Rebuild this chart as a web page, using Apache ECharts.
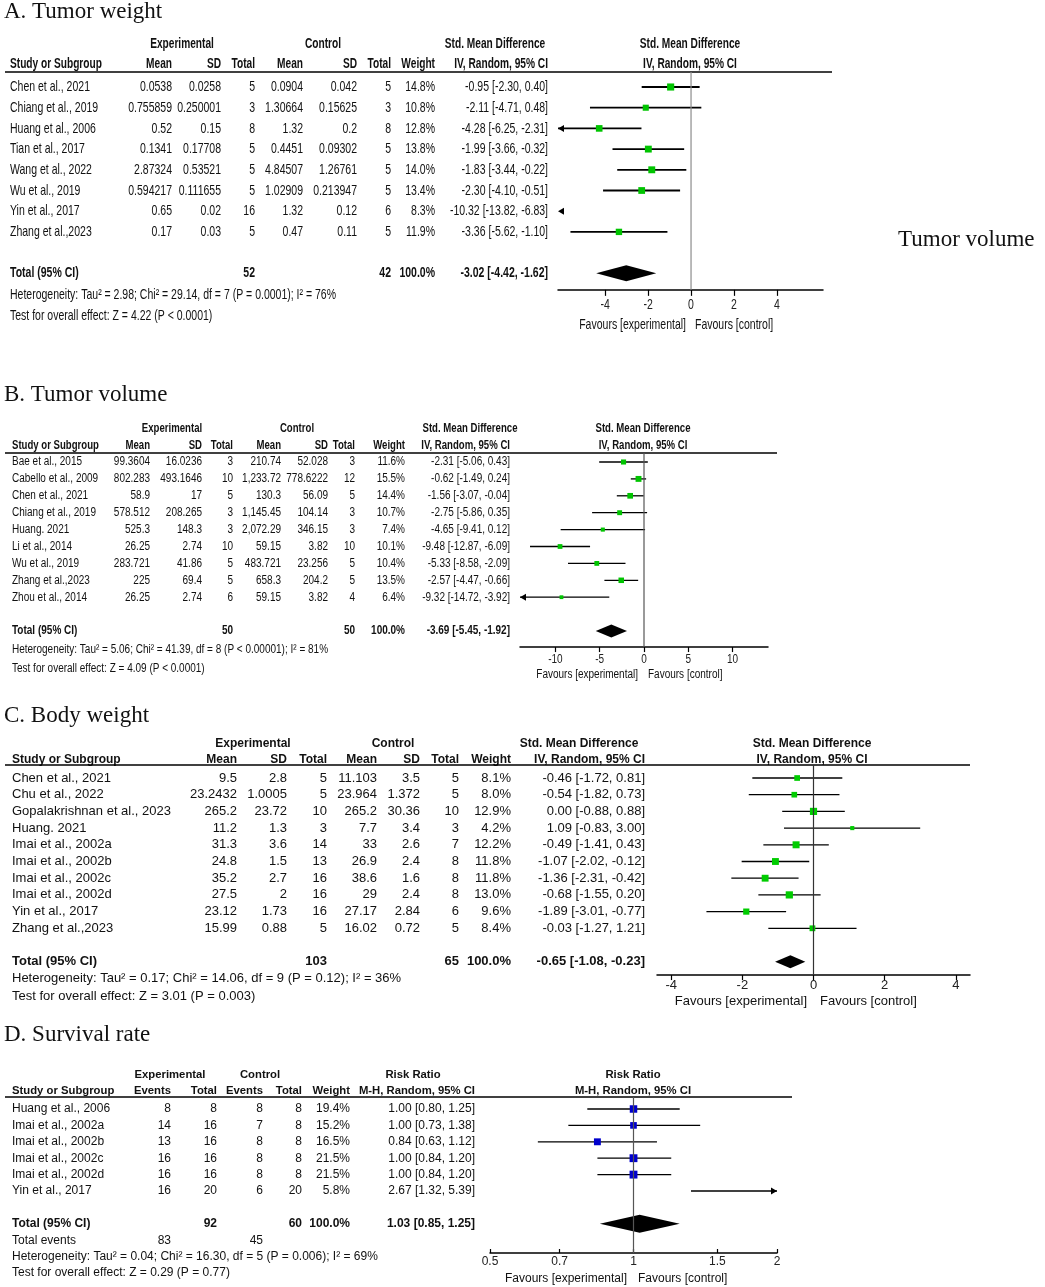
<!DOCTYPE html>
<html>
<head>
<meta charset="utf-8">
<title>Forest plots</title>
<script src="https://cdn.jsdelivr.net/npm/echarts@6.0.0/dist/echarts.min.js"></script>
<style>html,body{margin:0;padding:0;background:#fff}#chart{width:1045px;height:1287px}</style>
</head>
<body>
<div id="chart"></div>
<script>
// A. Tumor weight
const studiesA = ['Chen et al., 2021','Chiang et al., 2019','Huang et al., 2006','Tian et al., 2017','Wang et al., 2022','Wu et al., 2019','Yin et al., 2017','Zhang et al.,2023'];
const expMeanA = ['0.0538','0.755859','0.52','0.1341','2.87324','0.594217','0.65','0.17'];
const expSdA = ['0.0258','0.250001','0.15','0.17708','0.53521','0.111655','0.02','0.03'];
const expNA = [5,3,8,5,5,5,16,5];
const ctlMeanA = ['0.0904','1.30664','1.32','0.4451','4.84507','1.02909','1.32','0.47'];
const ctlSdA = ['0.042','0.15625','0.2','0.09302','1.26761','0.213947','0.12','0.11'];
const ctlNA = [5,3,8,5,5,5,6,5];
const weightA = [14.8,10.8,12.8,13.8,14.0,13.4,8.3,11.9];
const estA = [-0.95,-2.11,-4.28,-1.99,-1.83,-2.30,-10.32,-3.36];
const loA = [-2.30,-4.71,-6.25,-3.66,-3.44,-4.10,-13.82,-5.62];
const hiA = [0.40,0.48,-2.31,-0.32,-0.22,-0.51,-6.83,-1.10];
const totalA = {exp:52, ctl:42, est:-3.02, lo:-4.42, hi:-1.62};
const hetA = 'Heterogeneity: Tau² = 2.98; Chi² = 29.14, df = 7 (P = 0.0001); I² = 76%';
const testA = 'Test for overall effect: Z = 4.22 (P < 0.0001)';
const ticksA = [-4,-2,0,2,4];

// B. Tumor volume
const studiesB = ['Bae et al., 2015','Cabello et al., 2009','Chen et al., 2021','Chiang et al., 2019','Huang. 2021','Li et al., 2014','Wu et al., 2019','Zhang et al.,2023','Zhou et al., 2014'];
const expMeanB = ['99.3604','802.283','58.9','578.512','525.3','26.25','283.721','225','26.25'];
const expSdB = ['16.0236','493.1646','17','208.265','148.3','2.74','41.86','69.4','2.74'];
const expNB = [3,10,5,3,3,10,5,5,6];
const ctlMeanB = ['210.74','1,233.72','130.3','1,145.45','2,072.29','59.15','483.721','658.3','59.15'];
const ctlSdB = ['52.028','778.6222','56.09','104.14','346.15','3.82','23.256','204.2','3.82'];
const ctlNB = [3,12,5,3,3,10,5,5,4];
const weightB = [11.6,15.5,14.4,10.7,7.4,10.1,10.4,13.5,6.4];
const estB = [-2.31,-0.62,-1.56,-2.75,-4.65,-9.48,-5.33,-2.57,-9.32];
const loB = [-5.06,-1.49,-3.07,-5.86,-9.41,-12.87,-8.58,-4.47,-14.72];
const hiB = [0.43,0.24,-0.04,0.35,0.12,-6.09,-2.09,-0.66,-3.92];
const totalB = {exp:50, ctl:50, est:-3.69, lo:-5.45, hi:-1.92};
const hetB = 'Heterogeneity: Tau² = 5.06; Chi² = 41.39, df = 8 (P < 0.00001); I² = 81%';
const testB = 'Test for overall effect: Z = 4.09 (P < 0.0001)';
const ticksB = [-10,-5,0,5,10];

// C. Body weight
const studiesC = ['Chen et al., 2021','Chu et al., 2022','Gopalakrishnan et al., 2023','Huang. 2021','Imai et al., 2002a','Imai et al., 2002b','Imai et al., 2002c','Imai et al., 2002d','Yin et al., 2017','Zhang et al.,2023'];
const expMeanC = ['9.5','23.2432','265.2','11.2','31.3','24.8','35.2','27.5','23.12','15.99'];
const expSdC = ['2.8','1.0005','23.72','1.3','3.6','1.5','2.7','2','1.73','0.88'];
const expNC = [5,5,10,3,14,13,16,16,16,5];
const ctlMeanC = ['11.103','23.964','265.2','7.7','33','26.9','38.6','29','27.17','16.02'];
const ctlSdC = ['3.5','1.372','30.36','3.4','2.6','2.4','1.6','2.4','2.84','0.72'];
const ctlNC = [5,5,10,3,7,8,8,8,6,5];
const weightC = [8.1,8.0,12.9,4.2,12.2,11.8,11.8,13.0,9.6,8.4];
const estC = [-0.46,-0.54,0.00,1.09,-0.49,-1.07,-1.36,-0.68,-1.89,-0.03];
const loC = [-1.72,-1.82,-0.88,-0.83,-1.41,-2.02,-2.31,-1.55,-3.01,-1.27];
const hiC = [0.81,0.73,0.88,3.00,0.43,-0.12,-0.42,0.20,-0.77,1.21];
const totalC = {exp:103, ctl:65, est:-0.65, lo:-1.08, hi:-0.23};
const hetC = 'Heterogeneity: Tau² = 0.17; Chi² = 14.06, df = 9 (P = 0.12); I² = 36%';
const testC = 'Test for overall effect: Z = 3.01 (P = 0.003)';
const ticksC = [-4,-2,0,2,4];

// D. Survival rate
const studiesD = ['Huang et al., 2006','Imai et al., 2002a','Imai et al., 2002b','Imai et al., 2002c','Imai et al., 2002d','Yin et al., 2017'];
const expEvD = [8,14,13,16,16,16];
const expND = [8,16,16,16,16,20];
const ctlEvD = [8,7,8,8,8,6];
const ctlND = [8,8,8,8,8,20];
const weightD = [19.4,15.2,16.5,21.5,21.5,5.8];
const estD = [1.00,1.00,0.84,1.00,1.00,2.67];
const loD = [0.80,0.73,0.63,0.84,0.84,1.32];
const hiD = [1.25,1.38,1.12,1.20,1.20,5.39];
const totalD = {exp:92, ctl:60, evExp:83, evCtl:45, est:1.03, lo:0.85, hi:1.25};
const hetD = 'Heterogeneity: Tau² = 0.04; Chi² = 16.30, df = 5 (P = 0.006); I² = 69%';
const testD = 'Test for overall effect: Z = 0.29 (P = 0.77)';
const ticksD = [0.5,0.7,1,1.5,2];

const W = 1045;
const ARIAL = "'Liberation Sans', Arial, sans-serif";
const SERIF = "'Liberation Serif', 'Times New Roman', serif";

const ci = (e, l, h) => e.toFixed(2) + ' [' + l.toFixed(2) + ', ' + h.toFixed(2) + ']';
const pct = w => w.toFixed(1) + '%';

// sx: horizontal squeeze of the text (panels A and B use a tall, narrow face)
const panels = [
  {title:'A. Tumor weight', titleRow:-3.62, y0:87, rowH:20.7, hdrRow:-0.72, axisRow:9.8,
   plotL:558, plotR:823, xMin:-6.2, xMax:6.15, refX:0, ticks:ticksA, ruleL:5, ruleR:832,
   cols:[10,172,221,255,303,357,391,435,548], grp:{exp:182, ctl:323, est:495, plot:690},
   rows:{grp:-2.08, hdr:-1.1, total:9, het:10.05, test:11.06, fav:11.5}, fav:[686,695],
   size:15, headSize:14.5, sx:0.7, axisSize:15, labelMargin:7, tickLen:6, tickIn:false,
   boxK:1.85, diamondH:8, lineW:1.8,
   box:'#00c400', ref:'#8c8c8c', estHead:'Std. Mean Difference', ciHead:'IV, Random, 95% CI',
   studies:studiesA, c:[expMeanA,expSdA,expNA,ctlMeanA,ctlSdA,ctlNA], weight:weightA,
   est:estA, lo:loA, hi:hiA, total:totalA, het:hetA, test:testA},
  {title:'B. Tumor volume', titleRow:-3.96, y0:462, rowH:16.9, hdrRow:-0.53, axisRow:10.95,
   plotL:520, plotR:768, xMin:-14, xMax:14, refX:0, ticks:ticksB, ruleL:5, ruleR:777,
   cols:[12,150,202,233,281,328,355,405,510], grp:{exp:172, ctl:297, est:470, plot:643},
   rows:{grp:-1.95, hdr:-0.97, total:10, het:11.1, test:12.2, fav:12.55}, fav:[638,648],
   size:12.5, headSize:12, sx:0.8, axisSize:12.5, labelMargin:6, tickLen:5, tickIn:false,
   boxK:1.5, diamondH:6.5, lineW:1.3,
   box:'#00c400', ref:'#555', estHead:'Std. Mean Difference', ciHead:'IV, Random, 95% CI',
   studies:studiesB, c:[expMeanB,expSdB,expNB,ctlMeanB,ctlSdB,ctlNB], weight:weightB,
   est:estB, lo:loB, hi:hiB, total:totalB, het:hetB, test:testB},
  {title:'C. Body weight', titleRow:-3.71, y0:778, rowH:16.7, hdrRow:-0.78, axisRow:11.8,
   plotL:657, plotR:970, xMin:-4.4, xMax:4.4, refX:0, ticks:ticksC, ruleL:5, ruleR:970,
   cols:[12,237,287,327,377,420,459,511,645], grp:{exp:253, ctl:393, est:579, plot:812},
   rows:{grp:-2.06, hdr:-1.1, total:11, het:12, test:13.1, fav:13.35}, fav:[807,820],
   size:13, headSize:12, sx:1, axisSize:13, labelMargin:4, tickLen:5, tickIn:false,
   boxK:2, diamondH:6.5, lineW:1.3,
   box:'#00cc00', ref:'#333', estHead:'Std. Mean Difference', ciHead:'IV, Random, 95% CI',
   studies:studiesC, c:[expMeanC,expSdC,expNC,ctlMeanC,ctlSdC,ctlNC], weight:weightC,
   est:estC, lo:loC, hi:hiC, total:totalC, het:hetC, test:testC},
  {title:'D. Survival rate', titleRow:-4.5, y0:1109, rowH:16.4, hdrRow:-0.73, axisRow:8.78,
   plotL:490, plotR:777, xMin:0.5, xMax:2, refX:1, log:true, ticks:ticksD, ruleL:5, ruleR:792,
   cols:[12,171,217,263,302,350,475], grp:{exp:170, ctl:260, est:413, plot:633},
   rows:{grp:-2.07, hdr:-1.1, total:7, events:8, het:9, test:10, fav:10.35}, fav:[627,638],
   size:12, headSize:11.3, sx:1, axisSize:12, labelMargin:3, tickLen:4, tickIn:true,
   boxK:1.7, diamondH:9, lineW:1.3,
   box:'#0000cc', ref:'#555', estHead:'Risk Ratio', ciHead:'M-H, Random, 95% CI', rr:true,
   studies:studiesD, c:[expEvD,expND,ctlEvD,ctlND], weight:weightD,
   est:estD, lo:loD, hi:hiD, total:totalD, het:hetD, test:testD}
];

function buildCells(p) {
  const cells = [];
  const f = (bold, size) => (bold ? 'bold ' : '') + size + 'px ' + ARIAL;
  const add = (x, row, text, align, bold, font, sx) => cells.push({x, row, text: String(text), align,
    font: font || f(bold, bold ? p.headSize : p.size), sx: sx || p.sx});
  const c = p.cols, r = p.rows, n = p.c.length;
  add(4, p.titleRow, p.title, 'left', false, '23px ' + SERIF, 1);
  // group headers
  add(p.grp.exp, r.grp, 'Experimental', 'center', true);
  add(p.grp.ctl, r.grp, 'Control', 'center', true);
  add(p.grp.est, r.grp, p.estHead, 'center', true);
  add(p.grp.plot, r.grp, p.estHead, 'center', true);
  add(p.grp.plot, r.hdr, p.ciHead, 'center', true);
  // column headers
  const heads = p.rr ? ['Events','Total','Events','Total'] : ['Mean','SD','Total','Mean','SD','Total'];
  add(c[0], r.hdr, 'Study or Subgroup', 'left', true);
  heads.forEach((h, k) => add(c[k + 1], r.hdr, h, 'right', true));
  add(c[n + 1], r.hdr, 'Weight', 'right', true);
  add(c[n + 2], r.hdr, p.ciHead, 'right', true);
  // study rows
  p.studies.forEach((s, i) => {
    add(c[0], i, s, 'left', false);
    p.c.forEach((col, k) => add(c[k + 1], i, col[i], 'right', false));
    add(c[n + 1], i, pct(p.weight[i]), 'right', false);
    add(c[n + 2], i, ci(p.est[i], p.lo[i], p.hi[i]), 'right', false);
  });
  // totals
  const t = p.total;
  const tb = f(true, p.size);
  add(c[0], r.total, 'Total (95% CI)', 'left', true, tb);
  add(p.rr ? c[2] : c[3], r.total, t.exp, 'right', true, tb);
  add(p.rr ? c[4] : c[6], r.total, t.ctl, 'right', true, tb);
  add(c[n + 1], r.total, '100.0%', 'right', true, tb);
  add(c[n + 2], r.total, ci(t.est, t.lo, t.hi), 'right', true, tb);
  if (p.rr) {
    add(c[0], r.events, 'Total events', 'left', false);
    add(c[1], r.events, t.evExp, 'right', false);
    add(c[3], r.events, t.evCtl, 'right', false);
  }
  add(c[0], r.het, p.het, 'left', false);
  add(c[0], r.test, p.test, 'left', false);
  const favFont = f(false, p.axisSize);
  add(p.fav[0], r.fav, 'Favours [experimental]', 'right', false, favFont);
  add(p.fav[1], r.fav, 'Favours [control]', 'left', false, favFont);
  return cells;
}

const grids = [], xAxis = [], yAxis = [], series = [];

panels.forEach((p, idx) => {
  const g = grids.length;
  const squeeze = p.sx < 1;
  const rMin = -2, rMax = p.rows.test;
  grids.push({left: 0, width: W, top: p.y0 + rMin * p.rowH, height: (rMax - rMin) * p.rowH, outerBoundsMode: 'none'});
  xAxis.push({gridIndex: g, type: 'value', min: 0, max: W, show: false});
  yAxis.push({gridIndex: g, type: 'value', min: rMin, max: rMax, inverse: true, show: false});
  grids.push({left: p.plotL, width: p.plotR - p.plotL, top: p.y0 + p.hdrRow * p.rowH,
    height: (p.axisRow - p.hdrRow) * p.rowH, outerBoundsMode: 'none'});
  xAxis.push({gridIndex: g + 1, type: p.log ? 'log' : 'value', logBase: 10, min: p.xMin, max: p.xMax,
    axisLine: {onZero: false, lineStyle: {color: '#000', width: 1.5}},
    axisTick: {customValues: p.ticks, length: p.tickLen, inside: p.tickIn, lineStyle: {color: '#000', width: 1.2}},
    axisLabel: {show: !squeeze, customValues: p.ticks, margin: p.labelMargin, color: '#222',
      fontFamily: ARIAL, fontSize: p.axisSize, formatter: v => String(v)},
    splitLine: {show: false}});
  yAxis.push({gridIndex: g + 1, type: 'value', min: p.hdrRow, max: p.axisRow, inverse: true, show: false});

  // header rule
  series.push({type: 'line', xAxisIndex: g, yAxisIndex: g, silent: true, symbol: 'none',
    data: [[p.ruleL, p.hdrRow], [p.ruleR, p.hdrRow]], lineStyle: {color: '#000', width: 1.5}});
  // line of no effect
  series.push({type: 'line', xAxisIndex: g + 1, yAxisIndex: g + 1, silent: true, symbol: 'none', clip: false,
    data: [[p.refX, p.hdrRow], [p.refX, p.axisRow]], lineStyle: {color: p.ref, width: 1.2}});

  // narrow tick labels, placed from the axis scale
  if (squeeze) {
    series.push({type: 'custom', xAxisIndex: g + 1, yAxisIndex: g + 1, silent: true, clip: false,
      data: p.ticks.map(v => [v, p.axisRow]),
      renderItem: (params, api) => {
        const pt = api.coord([api.value(0), api.value(1)]);
        return {type: 'text', x: pt[0], y: pt[1] + p.labelMargin, scaleX: p.sx,
          style: {text: String(p.ticks[params.dataIndex]), align: 'center', verticalAlign: 'top',
            font: p.axisSize + 'px ' + ARIAL, fill: '#222'}};
      }});
  }

  // table text
  const cells = buildCells(p);
  if (idx === 0) cells.push({x: 898, row: 7.39, text: 'Tumor volume', align: 'left', font: '23px ' + SERIF, sx: 1});
  series.push({type: 'custom', xAxisIndex: g, yAxisIndex: g, silent: true, clip: false,
    data: cells.map(c => [c.x, c.row]),
    renderItem: (params, api) => {
      const c = cells[params.dataIndex];
      const pt = api.coord([c.x, c.row]);
      return {type: 'text', x: pt[0], y: pt[1], scaleX: c.sx,
        style: {text: c.text, align: c.align, verticalAlign: 'middle', font: c.font, fill: '#111'}};
    }});

  // study estimates with confidence intervals
  const arrow = (x, y, dir) => ({type: 'polygon',
    shape: {points: [[x, y], [x - dir * 6, y - 3.5], [x - dir * 6, y + 3.5]]}, style: {fill: '#000'}});
  series.push({type: 'custom', xAxisIndex: g + 1, yAxisIndex: g + 1, silent: true, clip: false,
    data: p.studies.map((s, i) => [p.lo[i], p.hi[i], p.est[i], i, p.weight[i]]),
    renderItem: (params, api) => {
      const lo = api.value(0), hi = api.value(1), est = api.value(2), row = api.value(3), w = api.value(4);
      const a = Math.max(lo, p.xMin), b = Math.min(hi, p.xMax);
      const pa = api.coord([a, row]), pb = api.coord([b, row]);
      const kids = [];
      if (b > a) kids.push({type: 'line', shape: {x1: pa[0], y1: pa[1], x2: pb[0], y2: pb[1]},
        style: {stroke: '#000', lineWidth: p.lineW}});
      if (lo < p.xMin) kids.push(arrow(pa[0], pa[1], -1));
      if (hi > p.xMax) kids.push(arrow(pb[0], pb[1], 1));
      if (est >= p.xMin && est <= p.xMax) {
        const pe = api.coord([est, row]), s = p.boxK * Math.sqrt(w);
        kids.push({type: 'rect', shape: {x: pe[0] - s / 2, y: pe[1] - s / 2, width: s, height: s},
          style: {fill: p.box}});
      }
      return {type: 'group', children: kids};
    }});

  // pooled diamond
  const t = p.total;
  series.push({type: 'custom', xAxisIndex: g + 1, yAxisIndex: g + 1, silent: true, clip: false,
    data: [[t.lo, t.hi, t.est, p.rows.total]],
    renderItem: (params, api) => {
      const row = api.value(3);
      const l = api.coord([api.value(0), row]), h = api.coord([api.value(1), row]), e = api.coord([api.value(2), row]);
      const d = p.diamondH;
      return {type: 'polygon', shape: {points: [[l[0], l[1]], [e[0], e[1] - d], [h[0], h[1]], [e[0], e[1] + d]]},
        style: {fill: '#000'}};
    }});
});

const chart = echarts.init(document.getElementById('chart'));
chart.setOption({
  animation: false,
  backgroundColor: '#fff',
  grid: grids,
  xAxis: xAxis,
  yAxis: yAxis,
  series: series
});
</script>
</body>
</html>
